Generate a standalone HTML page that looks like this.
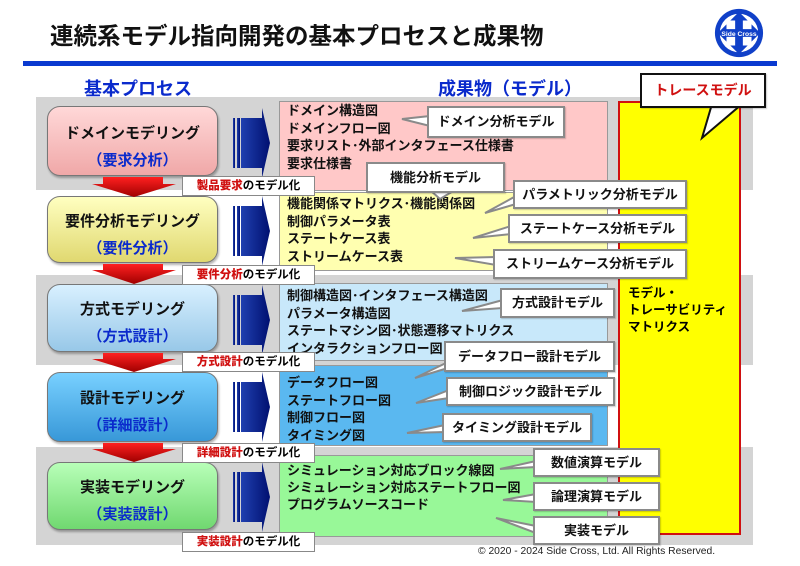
<!DOCTYPE html>
<html><head><meta charset="utf-8"><style>
*{margin:0;padding:0;box-sizing:border-box}
body{width:800px;height:566px;background:#fff;position:relative;overflow:hidden;font-family:"Liberation Sans","Noto Sans CJK JP",sans-serif}
.a{position:absolute}
.band{position:absolute;left:36px;width:717px;background:#d4d4d4}
.proc{position:absolute;left:47px;width:171px;border:1px solid #777;border-radius:13px;text-align:center;font-size:15px;font-weight:bold;color:#111;box-shadow:1px 2px 2px rgba(0,0,0,.3)}
.proc span{display:block;color:#0a2acc;margin-top:6px}
.out{position:absolute;left:279px;width:329px;border:1px solid #999;font-size:13px;font-weight:bold;color:#111;line-height:17.5px;padding-left:7px}
.lab{position:absolute;left:182px;width:133px;height:20px;background:#fff;border:1px solid #888;font-size:11.5px;font-weight:bold;line-height:18px;text-align:center}
.lab b{color:#d01010}
.co{position:absolute;background:#fff;border:2px solid #8a8a8a;font-size:13px;font-weight:bold;color:#111;text-align:center;box-shadow:1px 1px 1px rgba(0,0,0,.2)}
</style></head><body>
<div class="a" style="left:50px;top:17px;font-size:23.5px;font-weight:bold;color:#111">連続系モデル指向開発の基本プロセスと成果物</div>
<div class="a" style="left:23px;top:61px;width:754px;height:5px;background:#0a3ad0"></div>
<svg class="a" style="left:713px;top:7px" width="52" height="52" viewBox="0 0 54 54">
<circle cx="27" cy="27" r="25" fill="#1040c8"/><circle cx="27" cy="27" r="20" fill="#fff"/>
<path d="M27 5 L36 14 L31 14 L31 23 L40 23 L40 18 L49 27 L40 36 L40 31 L31 31 L31 40 L36 40 L27 49 L18 40 L23 40 L23 31 L14 31 L14 36 L5 27 L14 18 L14 23 L23 23 L23 14 L18 14Z" fill="#1040c8"/>
<text x="27" y="30" font-size="7" fill="#fff" text-anchor="middle" font-family="Liberation Sans" font-weight="bold">Side Cross</text></svg>
<div class="a" style="left:84px;top:75px;font-size:18px;font-weight:bold;color:#0a2acc">基本プロセス</div>
<div class="a" style="left:438px;top:75px;font-size:18px;font-weight:bold;color:#0a2acc">成果物（モデル）</div>

<div class="band" style="top:97px;height:93px"></div>
<div class="band" style="top:275px;height:90px"></div>
<div class="band" style="top:447px;height:98px"></div>

<div class="out" style="top:101px;height:90px;background:#ffc8c8">ドメイン構造図<br>ドメインフロー図<br>要求リスト･外部インタフェース仕様書<br>要求仕様書</div>
<div class="out" style="top:192px;height:79px;background:#ffffb0;padding-top:2px">機能関係マトリクス･機能関係図<br>制御パラメータ表<br>ステートケース表<br>ストリームケース表</div>
<div class="out" style="top:283px;height:78px;background:#c8e8fa;padding-top:3px">制御構造図･インタフェース構造図<br>パラメータ構造図<br>ステートマシン図･状態遷移マトリクス<br>インタラクションフロー図</div>
<div class="out" style="top:365px;height:81px;background:#5ab8f0;padding-top:8px">データフロー図<br>ステートフロー図<br>制御フロー図<br>タイミング図</div>
<div class="out" style="top:455px;height:82px;background:#98f898;padding-top:6px;line-height:17px">シミュレーション対応ブロック線図<br>シミュレーション対応ステートフロー図<br>プログラムソースコード</div>

<div class="a" style="left:618px;top:101px;width:123px;height:434px;background:#ffff00;border:2px solid #d01010;padding:182px 0 0 8px;font-size:12.5px;font-weight:bold;line-height:17px">モデル・<br>トレーサビリティ<br>マトリクス</div>

<div class="proc" style="top:106px;height:70px;background:linear-gradient(#ffd8d8,#f0a8a8);padding-top:15px">ドメインモデリング<span>（要求分析）</span></div>
<div class="proc" style="top:196px;height:67px;background:linear-gradient(#ffffc0,#e0d870);padding-top:13px">要件分析モデリング<span>（要件分析）</span></div>
<div class="proc" style="top:284px;height:68px;background:linear-gradient(#d8f0ff,#98c8e8);padding-top:13px">方式モデリング<span>（方式設計）</span></div>
<div class="proc" style="top:372px;height:70px;background:linear-gradient(#78d0ff,#3898d8);padding-top:14px">設計モデリング<span>（詳細設計）</span></div>
<div class="proc" style="top:462px;height:68px;background:linear-gradient(#b8ffb8,#70d870);padding-top:13px">実装モデリング<span>（実装設計）</span></div>

<svg class="a" style="left:0;top:0" width="800" height="566">
<defs><linearGradient id="r" x1="0" y1="0" x2="0" y2="1"><stop offset="0" stop-color="#ff2020"/><stop offset="1" stop-color="#a00000"/></linearGradient>
<linearGradient id="n" x1="0" y1="0" x2="1" y2="0"><stop offset="0" stop-color="#2040b0"/><stop offset="1" stop-color="#001070"/></linearGradient></defs>
<g fill="url(#r)">
<path d="M103 177H163V184H176L134 197L92 184H103Z"/>
<path d="M103 264H163V270H176L134 284L92 270H103Z"/>
<path d="M103 353H163V359H176L134 372L92 359H103Z"/>
<path d="M103 443H163V449H176L134 462L92 449H103Z"/>
</g>
<g fill="url(#n)">
<g id="na"><rect x="233" y="118" width="2" height="50"/><rect x="237" y="118" width="3" height="50"/><path d="M241 118H262V108L270 143L262 178V168H241Z"/></g>
<use href="#na" y="88"/><use href="#na" y="177"/><use href="#na" y="264"/><use href="#na" y="354"/>
</g>
<g fill="#fff" stroke="#8a8a8a" stroke-width="2">
<path d="M430 116L402 119L430 126Z"/>
<path d="M430 190L440 199L455 190Z"/>
<path d="M516 196L485 213L516 204Z"/>
<path d="M511 226L473 238L511 234Z"/>
<path d="M496 257L455 258L496 265Z"/>
<path d="M503 300L462 311L503 308Z"/>
<path d="M448 362L415 378L448 368Z"/>
<path d="M449 390L416 403L449 398Z"/>
<path d="M445 425L407 433L445 432Z"/>
<path d="M536 461L500 469L536 467Z"/>
<path d="M536 494L503 500L536 502Z"/>
<path d="M536 526L496 518L536 533Z"/>
<path d="M712 104L702 138L742 104Z" stroke="#111"/>
</g>
</svg>

<div class="co" style="left:427px;top:106px;width:138px;height:32px;line-height:28px">ドメイン分析モデル</div>
<div class="co" style="left:366px;top:162px;width:139px;height:31px;line-height:27px">機能分析モデル</div>
<div class="co" style="left:513px;top:180px;width:174px;height:29px;line-height:25px">パラメトリック分析モデル</div>
<div class="co" style="left:508px;top:214px;width:179px;height:29px;line-height:25px">ステートケース分析モデル</div>
<div class="co" style="left:493px;top:249px;width:194px;height:30px;line-height:26px">ストリームケース分析モデル</div>
<div class="co" style="left:500px;top:288px;width:115px;height:30px;line-height:26px">方式設計モデル</div>
<div class="co" style="left:444px;top:341px;width:171px;height:31px;line-height:27px">データフロー設計モデル</div>
<div class="co" style="left:446px;top:377px;width:169px;height:29px;line-height:25px">制御ロジック設計モデル</div>
<div class="co" style="left:442px;top:413px;width:150px;height:29px;line-height:25px">タイミング設計モデル</div>
<div class="co" style="left:533px;top:448px;width:127px;height:29px;line-height:25px">数値演算モデル</div>
<div class="co" style="left:533px;top:482px;width:127px;height:29px;line-height:25px">論理演算モデル</div>
<div class="co" style="left:533px;top:516px;width:127px;height:29px;line-height:25px">実装モデル</div>
<div class="co" style="left:640px;top:73px;width:126px;height:35px;line-height:31px;border-color:#111;color:#d01010;font-size:14px">トレースモデル</div>

<div class="lab" style="top:176px"><b>製品要求</b>のモデル化</div>
<div class="lab" style="top:265px"><b>要件分析</b>のモデル化</div>
<div class="lab" style="top:352px"><b>方式設計</b>のモデル化</div>
<div class="lab" style="top:443px"><b>詳細設計</b>のモデル化</div>
<div class="lab" style="top:532px"><b>実装設計</b>のモデル化</div>

<div class="a" style="left:478px;top:546px;font-size:10.3px;color:#222">© 2020 - 2024 Side Cross, Ltd. All Rights Reserved.</div>
</body></html>
